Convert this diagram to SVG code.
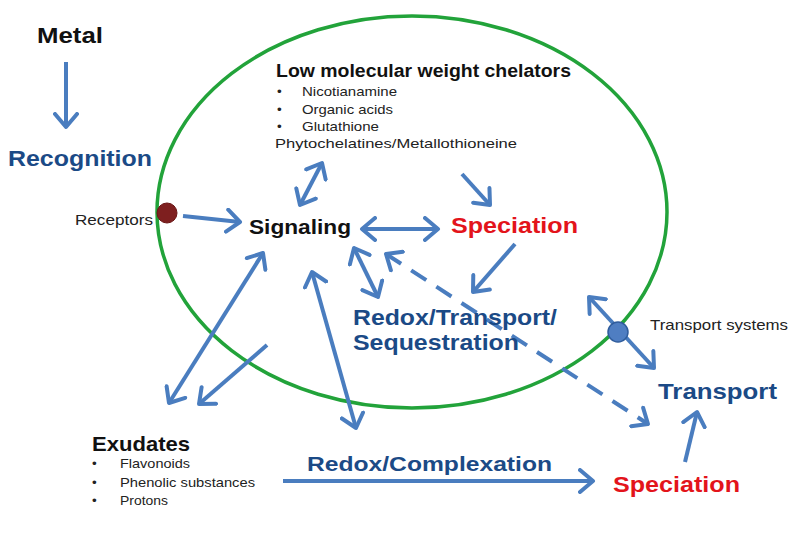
<svg xmlns="http://www.w3.org/2000/svg" width="800" height="537" viewBox="0 0 800 537">
<defs>
<style>
.t{font-family:"Liberation Sans",Arial,sans-serif}
.b{font-weight:bold}
.k{fill:#111}
.db{fill:#1b4a86}
.rd{fill:#e3141b}
.sm{font-size:13.5px;fill:#222}
.c{fill:none;stroke:#4a7dbf;stroke-width:4}
.s{marker-end:url(#ah)}
.d{marker-start:url(#ah);marker-end:url(#ah)}
.dash{stroke-dasharray:18 12}
</style>
<marker id="ah" viewBox="0 0 18 26" refX="15" refY="13" markerWidth="18" markerHeight="26" markerUnits="userSpaceOnUse" orient="auto-start-reverse">
<path d="M2,2 L15,13 L2,24" fill="none" stroke="#4a7dbf" stroke-width="4" stroke-linecap="round" stroke-linejoin="round"/>
</marker>
</defs>
<rect width="800" height="537" fill="#fff"/>
<g id="cell">
<ellipse cx="412" cy="212" rx="255" ry="196" fill="none" stroke="#22a33a" stroke-width="3.5"/>
</g>
<g id="connectors">
<line class="c s" x1="66" y1="62" x2="66" y2="127"/>
<line class="c s" x1="183" y1="216" x2="240" y2="222"/>
<line class="c d" x1="362" y1="229" x2="438" y2="229"/>
<line class="c d" x1="322" y1="163" x2="300" y2="205"/>
<line class="c s" x1="462" y1="174" x2="490" y2="205"/>
<line class="c s" x1="515" y1="244" x2="473" y2="292"/>
<line class="c d" x1="354" y1="248" x2="378" y2="297"/>
<line class="c d dash" x1="386" y1="254" x2="648" y2="424"/>
<line class="c d" x1="263" y1="253" x2="169" y2="403"/>
<line class="c s" x1="267" y1="345" x2="199" y2="404"/>
<line class="c d" x1="312" y1="272" x2="356" y2="428"/>
<line class="c s" x1="283" y1="481" x2="593" y2="481"/>
<line class="c s" x1="685" y1="462" x2="697" y2="412"/>
<line class="c d" x1="589" y1="297" x2="654" y2="368"/>
</g>
<g id="metal"><text class="t b k" x="37" y="43" font-size="22" textLength="66" lengthAdjust="spacingAndGlyphs">Metal</text></g>
<g id="recognition"><text class="t b db" x="8" y="166" font-size="22" textLength="144" lengthAdjust="spacingAndGlyphs">Recognition</text></g>
<g id="chelators">
<text class="t b k" x="276" y="77" font-size="18" textLength="295" lengthAdjust="spacingAndGlyphs">Low molecular weight chelators</text>
<text class="t sm"><tspan x="277" y="96">•</tspan><tspan x="302" y="96" textLength="95" lengthAdjust="spacingAndGlyphs">Nicotianamine</tspan></text>
<text class="t sm"><tspan x="277" y="114">•</tspan><tspan x="302" y="114" textLength="91" lengthAdjust="spacingAndGlyphs">Organic acids</tspan></text>
<text class="t sm"><tspan x="277" y="131">•</tspan><tspan x="302" y="131" textLength="77" lengthAdjust="spacingAndGlyphs">Glutathione</tspan></text>
<text class="t sm" x="275" y="148" textLength="242" lengthAdjust="spacingAndGlyphs">Phytochelatines/Metallothioneine</text>
</g>
<g id="receptors">
<text class="t" x="75" y="225" font-size="15.5" fill="#222" textLength="78" lengthAdjust="spacingAndGlyphs">Receptors</text>
<circle cx="167" cy="213" r="10" fill="#7e1f1f" stroke="#6a1515" stroke-width="1"/>
</g>
<g id="signaling"><text class="t b k" x="249" y="234" font-size="20" textLength="102" lengthAdjust="spacingAndGlyphs">Signaling</text></g>
<g id="speciation-in"><text class="t b rd" x="451" y="233" font-size="22" textLength="127" lengthAdjust="spacingAndGlyphs">Speciation</text></g>
<g id="redox-transport">
<text class="t b db" x="353" y="325" font-size="22" textLength="204" lengthAdjust="spacingAndGlyphs">Redox/Transport/</text>
<text class="t b db" x="353" y="350" font-size="22" textLength="166" lengthAdjust="spacingAndGlyphs">Sequestration</text>
</g>
<g id="transport-systems">
<circle cx="618" cy="332" r="10" fill="#4f7ec2" stroke="#2f5c9c" stroke-width="1.5"/>
<text class="t" x="650" y="330" font-size="14.5" fill="#222" textLength="138" lengthAdjust="spacingAndGlyphs">Transport systems</text>
</g>
<g id="transport"><text class="t b db" x="658" y="399" font-size="22" textLength="119" lengthAdjust="spacingAndGlyphs">Transport</text></g>
<g id="exudates">
<text class="t b k" x="92" y="451" font-size="21" textLength="98" lengthAdjust="spacingAndGlyphs">Exudates</text>
<text class="t sm"><tspan x="92" y="468">•</tspan><tspan x="120" y="468" textLength="70" lengthAdjust="spacingAndGlyphs">Flavonoids</tspan></text>
<text class="t sm"><tspan x="92" y="487">•</tspan><tspan x="120" y="487" textLength="135" lengthAdjust="spacingAndGlyphs">Phenolic substances</tspan></text>
<text class="t sm"><tspan x="92" y="505">•</tspan><tspan x="120" y="505" textLength="48" lengthAdjust="spacingAndGlyphs">Protons</tspan></text>
</g>
<g id="redox-complexation"><text class="t b db" x="307" y="471" font-size="21" textLength="245" lengthAdjust="spacingAndGlyphs">Redox/Complexation</text></g>
<g id="speciation-out"><text class="t b rd" x="613" y="492" font-size="22" textLength="127" lengthAdjust="spacingAndGlyphs">Speciation</text></g>
</svg>
